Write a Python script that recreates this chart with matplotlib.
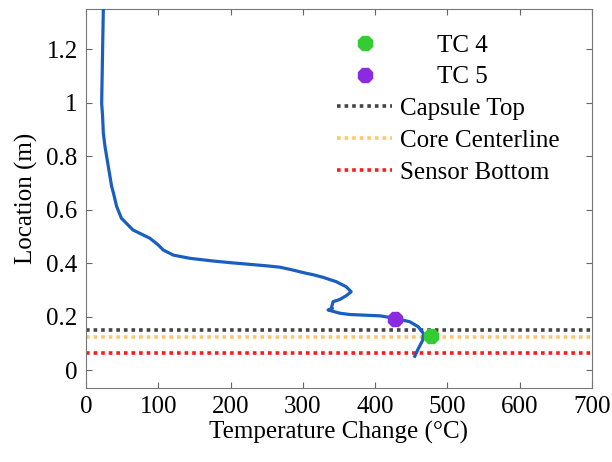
import matplotlib
matplotlib.use("Agg")
import matplotlib.pyplot as plt

# profile (temperature change, location)
temp_change = [24, 23, 21.7, 23, 24, 26.3, 30.9, 35.5, 38, 42.4, 49, 65, 88.5, 100,
               107, 121, 144, 176, 199, 250, 268, 282, 305, 314, 328, 346, 360, 367,
               360, 351, 342, 340, 341, 335, 351, 365, 407, 427, 448, 460, 467, 466,
               460, 455]
location = [1.35, 1.198, 0.998, 0.948, 0.886, 0.836, 0.761, 0.687, 0.662, 0.612,
            0.568, 0.524, 0.493, 0.468, 0.449, 0.43, 0.418, 0.408, 0.402, 0.39,
            0.385, 0.377, 0.362, 0.357, 0.347, 0.331, 0.312, 0.293, 0.278, 0.264,
            0.256, 0.237, 0.231, 0.225, 0.213, 0.208, 0.203, 0.194, 0.181, 0.162,
            0.137, 0.112, 0.081, 0.052]

tc_names = ["TC 4", "TC 5"]
tc_temp = [478, 427]
tc_loc = [0.128, 0.19]
tc_colors = ["#33cc33", "#8a2be2"]

level_names = ["Capsule Top", "Core Centerline", "Sensor Bottom"]
level_loc = [0.15, 0.125, 0.066]
level_colors = ["#444444", "#ffc66e", "#ff1a1a"]

plt.rcParams["font.family"] = "Liberation Serif"
plt.rcParams["font.size"] = 18

fig = plt.figure(figsize=(6.12, 4.62), dpi=100)
ax = fig.add_axes([0.1405, 0.160, 0.8265, 0.8205])

ax.plot(temp_change, location, color="#1a5fc0", lw=2.3, zorder=3,
        solid_joinstyle="round")

handles = []
for name, t, l, c in zip(tc_names, tc_temp, tc_loc, tc_colors):
    h, = ax.plot([t], [l], ls="none", marker="8", ms=11, color=c, mec=c,
                 label="      " + name, zorder=4)
    handles.append(h)
for name, l, c in zip(level_names, level_loc, level_colors):
    h = ax.axhline(l, color=c, lw=2.6, ls=(0, (1, 1.1)), label=name, zorder=2)
    handles.append(h)

ax.set_xlim(0, 700)
ax.set_ylim(-0.067, 1.35)
ax.set_xticks(range(0, 701, 100))
ax.set_yticks([0, 0.2, 0.4, 0.6, 0.8, 1, 1.2])
ax.set_yticklabels(["0", "0.2", "0.4", "0.6", "0.8", "1", "1.2"])
ax.tick_params(direction="in", top=True, right=True, length=4, color="#666666", pad=6)
for s in ax.spines.values():
    s.set_color("#777777")
ax.set_xlabel("Temperature Change (°C)", labelpad=2)
ax.set_ylabel("Location (m)", labelpad=6)

ax.legend(handles=handles, loc="upper left", bbox_to_anchor=(0.551, 0.926),
          bbox_transform=fig.transFigure, frameon=False, fontsize=18,
          handlelength=2.2, handletextpad=0.3, labelspacing=0.37, borderpad=0,
          borderaxespad=0)

fig.savefig("out.png", dpi=100)
